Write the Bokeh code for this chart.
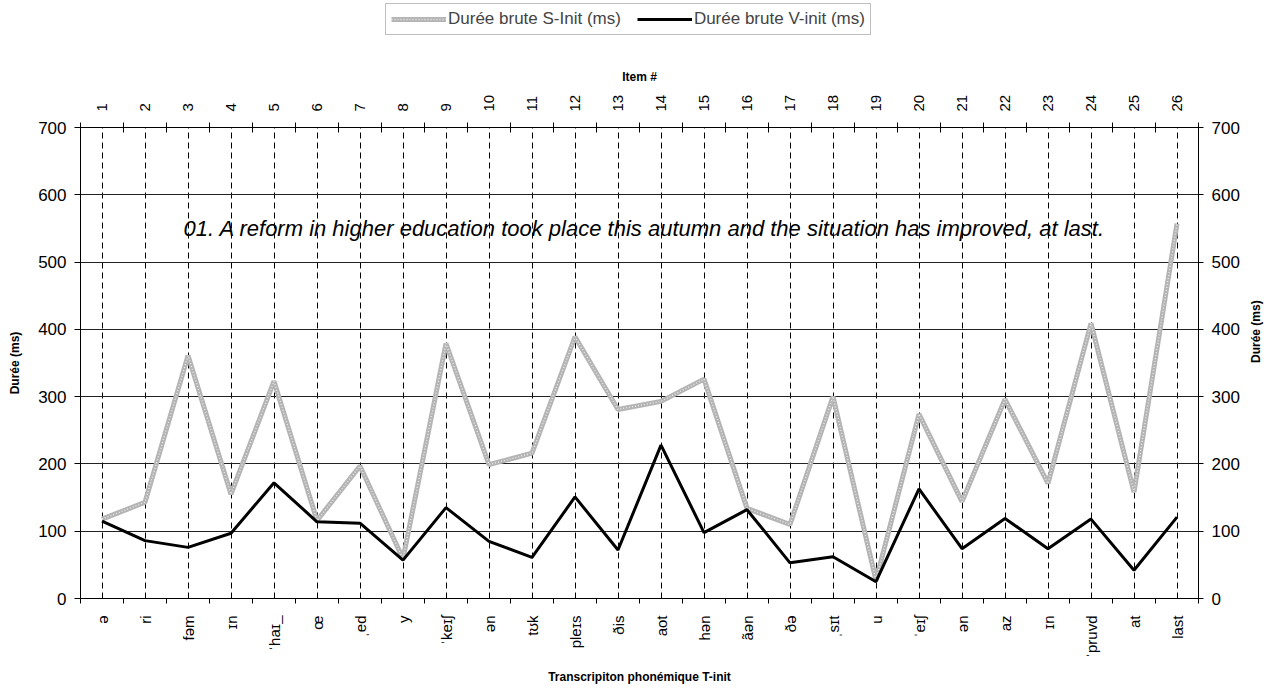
import math
from bokeh.plotting import figure
from bokeh.layouts import column
from bokeh.models import (Range1d, LinearAxis, FixedTicker, CustomJSTickFormatter,
                          Legend, LegendItem, Label)
from bokeh.embed import file_html
from bokeh.resources import INLINE

# ---- data ----
items = list(range(1, 27))
ipa_labels = ["ə", "ri", "fəm", "ɪn", "ˈhaɪ_", "œ", "ˌed", "y", "ˈkeɪʃ", "ən",
              "tʊk", "pleɪs", "ðis", "aot", "hən", "ãən", "ðə", "ˌsɪt", "u", "ˈeɪʃ",
              "ən", "az", "ɪn", "ˈpruvd", "at", "last"]
s_init = [118, 143, 361, 155, 323, 116, 197, 59, 379, 199, 216, 389, 281, 293, 326,
          134, 110, 300, 27, 274, 144, 296, 171, 409, 158, 557]
v_init = [115, 86, 76, 97, 172, 114, 112, 57, 135, 85, 61, 151, 72, 228, 98,
          132, 53, 62, 25, 163, 74, 119, 74, 118, 42, 121]
y_ticks = [0, 100, 200, 300, 400, 500, 600, 700]
sentence = "01. A reform in higher education took place this autumn and the situation has improved, at last."
series_names = ["Durée brute S-Init (ms)", "Durée brute V-init (ms)"]

FONT = "Liberation Sans"
W = 1272
LEG_H = 40
boundaries = [i + 0.5 for i in range(0, 27)]

GRAY = "#b4b4b4"

# ---- legend strip (separate small figure above the chart; its ranges hide the lines) ----
lf = figure(width=W, height=LEG_H, x_range=Range1d(1000, 1001), y_range=Range1d(1000, 1001),
            output_backend="svg", toolbar_location=None, min_border=0,
            x_axis_type=None, y_axis_type=None)
lf.outline_line_color = None
lf.grid.visible = False
lg1 = lf.line(items, s_init, line_color=GRAY, line_width=5)
lg2 = lf.line(items, s_init, line_color="white", line_width=1.4, line_dash="1 2", line_alpha=0.75)
lg3 = lf.line(items, v_init, line_color="black", line_width=3)
legend = Legend(items=[LegendItem(label=series_names[0], renderers=[lg1, lg2]),
                       LegendItem(label=series_names[1], renderers=[lg3])],
                orientation="horizontal", location=(305, 5),
                glyph_width=55, glyph_height=20, label_standoff=2, spacing=16,
                padding=5, margin=0, border_line_color="#808080", border_line_width=1,
                label_text_font=FONT, label_text_font_size="17px",
                label_height=20, background_fill_color="white", background_fill_alpha=1)
lf.add_layout(legend)

# ---- main chart ----
p = figure(width=W, height=647, x_range=Range1d(0.5, 26.5), y_range=Range1d(0, 700),
           output_backend="svg", toolbar_location=None,
           min_border_left=80, min_border_right=70, min_border_top=87, min_border_bottom=88)
p.outline_line_color = None
p.background_fill_color = "white"

p.xgrid.ticker = FixedTicker(ticks=items)
p.xgrid.grid_line_color = "black"
p.xgrid.grid_line_dash = "6 4"
p.xgrid.grid_line_width = 1
p.ygrid.ticker = FixedTicker(ticks=y_ticks)
p.ygrid.grid_line_color = "#222222"
p.ygrid.grid_line_width = 1


def style_axis(ax):
    ax.axis_line_color = "black"
    ax.axis_line_width = 1
    ax.major_label_text_font = FONT
    ax.axis_label_text_font = FONT
    ax.axis_label_text_font_style = "bold"
    ax.axis_label_text_font_size = "12px"
    ax.axis_label_text_color = "black"
    ax.major_label_text_color = "black"


# bottom axis
xa = p.xaxis[0]
xa.ticker = FixedTicker(ticks=items, minor_ticks=boundaries)
xa.formatter = CustomJSTickFormatter(args=dict(labels=ipa_labels),
                                     code="return labels[Math.round(tick) - 1] || '';")
xa.major_tick_line_color = None
xa.major_tick_in = 0
xa.major_tick_out = 0
xa.minor_tick_in = 0
xa.minor_tick_out = 5
xa.minor_tick_line_color = "black"
xa.major_label_orientation = math.pi / 2
xa.major_label_text_font_size = "15px"
xa.major_label_standoff = 12
xa.axis_label = "Transcripiton phonémique T-init"
xa.axis_label_standoff = 9
style_axis(xa)

# top axis
ta = LinearAxis(ticker=FixedTicker(ticks=items, minor_ticks=boundaries),
                axis_label="Item #")
ta.major_tick_line_color = None
ta.major_tick_in = 0
ta.major_tick_out = 0
ta.minor_tick_in = 5
ta.minor_tick_out = 5
ta.minor_tick_line_color = "black"
ta.major_label_orientation = math.pi / 2
ta.major_label_text_font_size = "15px"
ta.major_label_standoff = 11
ta.axis_label_standoff = 8
style_axis(ta)
p.add_layout(ta, "above")

# left axis
ya = p.yaxis[0]
ya.ticker = FixedTicker(ticks=y_ticks)
ya.major_tick_in = 0
ya.major_tick_out = 6
ya.minor_tick_line_color = None
ya.major_label_text_font_size = "17px"
ya.major_label_standoff = 8
ya.axis_label = "Durée (ms)"
ya.axis_label_standoff = 13
style_axis(ya)

# right axis
ra = LinearAxis(ticker=FixedTicker(ticks=y_ticks), axis_label="Durée (ms)")
ra.major_tick_in = 0
ra.major_tick_out = 5
ra.minor_tick_line_color = None
ra.major_label_text_font_size = "17px"
ra.major_label_standoff = 8
ra.axis_label_standoff = 13
style_axis(ra)
if hasattr(ra, "axis_label_orientation"):
    ra.axis_label_orientation = math.pi / 2
p.add_layout(ra, "right")

# series
p.line(items, s_init, line_color=GRAY, line_width=5)
p.line(items, s_init, line_color="white", line_width=1.4, line_dash="1 2", line_alpha=0.75)
p.line(items, v_init, line_color="black", line_width=3)

note = Label(x=13.62, y=550, text=sentence, text_align="center", text_baseline="alphabetic",
             text_font=FONT, text_font_style="italic", text_font_size="22px", text_color="black")
p.add_layout(note)

layout = column(lf, p, spacing=0)
open("out.html", "w").write(file_html(layout, INLINE))
